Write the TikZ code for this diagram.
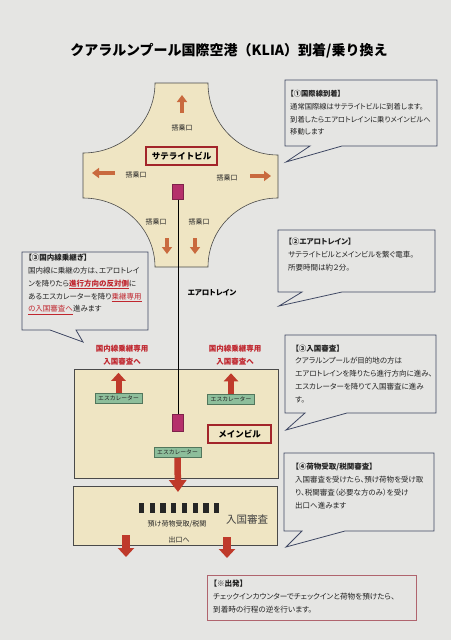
\documentclass[tikz,border=0pt]{standalone}
\usepackage{fontspec}
\setmainfont{Noto Sans CJK JP}
\newfontfamily\jp{Noto Sans CJK JP}
\newfontfamily\jpp[CharacterWidth=AlternateProportional]{Noto Sans CJK JP}
\usepackage{xcolor}
\definecolor{cPaper}{HTML}{E5E5E3}
\definecolor{cBeige}{HTML}{EFE5C3}
\definecolor{cEdge}{HTML}{4A4A4A}
\definecolor{cCall}{HTML}{3E4763}
\definecolor{cOrange}{HTML}{C96A3E}
\definecolor{cRed}{HTML}{BF3A2B}
\definecolor{cNote}{HTML}{C0262E}
\definecolor{cFrame}{HTML}{A3252A}
\definecolor{cGreen}{HTML}{8DBE9B}
\definecolor{cGreenEdge}{HTML}{52765C}
\definecolor{cStation}{HTML}{B5306B}
\definecolor{cDepart}{HTML}{B0646E}
\definecolor{cInk}{HTML}{222222}
\usetikzlibrary{positioning,arrows.meta}
\tikzset{
  building/.style={draw=cEdge,line width=0.6pt,fill=cBeige},
  name-box/.style={draw=cFrame,line width=1.1pt,fill=cBeige,minimum width=71pt,
    minimum height=18pt,inner sep=0pt,font=\jp\bfseries\fontsize{8.5}{10}\selectfont},
  esc-box/.style={draw=cGreenEdge,line width=0.5pt,fill=cGreen,minimum width=47pt,
    minimum height=10pt,inner sep=0pt,text=cInk,font=\jp\fontsize{5.8}{7}\selectfont},
  gate-text/.style={font=\jp\fontsize{7}{8}\selectfont,text=cInk},
  station/.style={draw=cStation!70!black,line width=0.4pt,fill=cStation,
    minimum width=11pt,minimum height=16pt,inner sep=0pt},
  desk/.style={fill=black!85,minimum width=5.3pt,minimum height=10pt,inner sep=0pt},
  call-shape/.style={draw=cCall,line width=0.8pt,line join=miter},
  call-text/.style={anchor=north west,inner sep=0pt,align=left,text=cInk,
    font=\jpp\fontsize{7.5}{12.8}\selectfont},
  red-note/.style={font=\jpp\bfseries\fontsize{7.5}{12.5}\selectfont,text=cNote,align=center},
  arrow-orange/.style={-{Triangle[length=7pt,width=10pt]},line width=4.5pt,draw=cOrange},
  arrow-red/.style={-{Triangle[length=8pt,width=14pt]},line width=6pt,draw=cRed},
  arrow-big/.style={-{Triangle[length=12pt,width=17pt]},line width=6.5pt,draw=cRed},
  arrow-exit/.style={-{Triangle[length=9pt,width=16pt]},line width=8pt,draw=cRed},
  rail/.style={draw=black,line width=0.8pt},
}

\begin{document}
\begin{tikzpicture}[x=1pt,y=-1pt]
  \useasboundingbox (0,0) rectangle (451,640);
  \fill[cPaper] (0,0) rectangle (451,640);

  % title
  \node[font=\jp\bfseries\fontsize{14}{16}\selectfont] (title) at (229,51)
    {クアラルンプール国際空港（KLIA）到着/乗り換え};

  % satellite building
  \path[building] (155,83) -- (208,83) .. controls (208,123) and (239,155) .. (278,155)
    -- (278,198) .. controls (239,198) and (208,229) .. (208,267)
    -- (155,267) .. controls (155,229) and (123,198) .. (83,198)
    -- (83,153) .. controls (123,153) and (155,122) .. (155,83) -- cycle;
  \node[name-box] (sat-name) at (181.5,156) {サテライトビル};
  \node[gate-text] (gate-n) at (182,128) {搭乗口};
  \node[gate-text] (gate-w) at (136,175) {搭乗口};
  \node[gate-text] (gate-e) at (227,178) {搭乗口};
  \node[gate-text] (gate-sw) at (156,222) {搭乗口};
  \node[gate-text] (gate-se) at (199,222) {搭乗口};
  \draw[arrow-orange] (182,113) -- (182,95);
  \draw[arrow-orange] (115,173) -- (92,173);
  \draw[arrow-orange] (250,176) -- (271,176);
  \draw[arrow-orange] (167,238) -- (167,254);
  \draw[arrow-orange] (195,238) -- (195,254);
  \node[station,minimum height=15pt] (st-sat) at (178,192) {};

  % main building
  \node[building,minimum width=204pt,minimum height=109pt] (main) at (176,423.5) {};
  \node[esc-box] (esc-l) at (118.5,398) {エスカレーター};
  \node[esc-box] (esc-r) at (231,399.5) {エスカレーター};
  \node[esc-box] (esc-m) at (177.5,452.5) {エスカレーター};
  \draw[arrow-red] (esc-l.north) -- ++(0,-20);
  \draw[arrow-red] (esc-r.north) -- ++(0,-21);
  \node[red-note] (note-l) at (122,355) {国内線乗継専用\\入国審査へ};
  \node[red-note] (note-r) at (235,355) {国内線乗継専用\\入国審査へ};
  \node[name-box,minimum width=63pt] (main-name) at (239.5,434) {メインビル};
  \node[station,minimum height=17pt] (st-main) at (178,422.5) {};

  % aerotrain
  \draw[rail] (st-sat) -- (st-main);
  \node[font=\jpp\bfseries\fontsize{7.5}{9}\selectfont] (train) at (212,293) {エアロトレイン};

  % immigration
  \node[building,minimum width=204pt,minimum height=59pt] (immig) at (175,515.5) {};
  \foreach \i in {0,...,7}
    \node[desk] (desk-\i) at ({141.7+10.7*\i},508) {};
  \node[gate-text] (baggage) at (177,524) {預け荷物受取/税関};
  \node[gate-text] (exit) at (179,540) {出口へ};
  \node[font=\jp\fontsize{10.5}{12}\selectfont,text=black!75] (immig-name) at (247,520) {入国審査};
  \draw[arrow-big] (esc-m.south) -- (178,492);
  \draw[arrow-exit] (126,535) -- (126,557);
  \draw[arrow-exit] (227,537) -- (227,558);

  % callouts
  \draw[call-shape] (285,80) -- (437,80) -- (437,146) -- (342,146) -- (286,162)
    -- (310,146) -- (285,146) -- cycle;
  \node[call-text,font=\jpp\fontsize{7.3}{12.8}\selectfont] (call-1) at (290,90)
    {{\bfseries 【①国際線到着】}\\
    通常国際線はサテライトビルに到着します。\\
    到着したらエアロトレインに乗りメインビルへ\\
    移動します};

  \draw[call-shape] (278,230) -- (435,230) -- (435,292) -- (342,292) -- (279,306)
    -- (302,292) -- (278,292) -- cycle;
  \node[call-text] (call-2) at (288,238) {{\bfseries 【②エアロトレイン】}\\
    サテライトビルとメインビルを繋ぐ電車。\\
    所要時間は約２分。};

  \draw[call-shape] (22,252) -- (148,252) -- (148,330) -- (76,330) -- (83,342)
    -- (50,330) -- (22,330) -- cycle;
  \node[call-text] (call-d) at (28,254) {{\bfseries 【③国内線乗継ぎ】}\\
    国内線に乗継の方は、エアロトレイ\\
    ンを降りたら\textcolor{cNote}{\bfseries\underline{進行方向の反対側}}に\\
    あるエスカレーターを降り\textcolor{cNote}{\underline{乗継専用}}\\
    \textcolor{cNote}{\underline{の入国審査へ}}進みます};

  \draw[call-shape] (285,335) -- (436,335) -- (436,413) -- (347,413) -- (286,430)
    -- (305,413) -- (285,413) -- cycle;
  \node[call-text] (call-3) at (295,344.5) {{\bfseries 【③入国審査】}\\
    クアラルンプールが目的地の方は\\
    エアロトレインを降りたら進行方向に進み、\\
    エスカレーターを降りて入国審査に進み\\
    す。};

  \draw[call-shape] (284,453) -- (434,453) -- (434,531) -- (345,531) -- (286,547)
    -- (302,531) -- (284,531) -- cycle;
  \node[call-text] (call-4) at (295,463) {{\bfseries 【④荷物受取/税関審査】}\\
    入国審査を受けたら、預け荷物を受け取\\
    り、税関審査（必要な方のみ）を受け\\
    出口へ進みます};

  \node[draw=cDepart,line width=0.8pt,minimum width=209pt,minimum height=45pt]
    (depart) at (311.5,597.5) {};
  \node[call-text,font=\jpp\fontsize{7.6}{13}\selectfont] (depart-text) at (213,580)
    {{\bfseries 【※出発】}\\
    チェックインカウンターでチェックインと荷物を預けたら、\\
    到着時の行程の逆を行います。};
\end{tikzpicture}
\end{document}
